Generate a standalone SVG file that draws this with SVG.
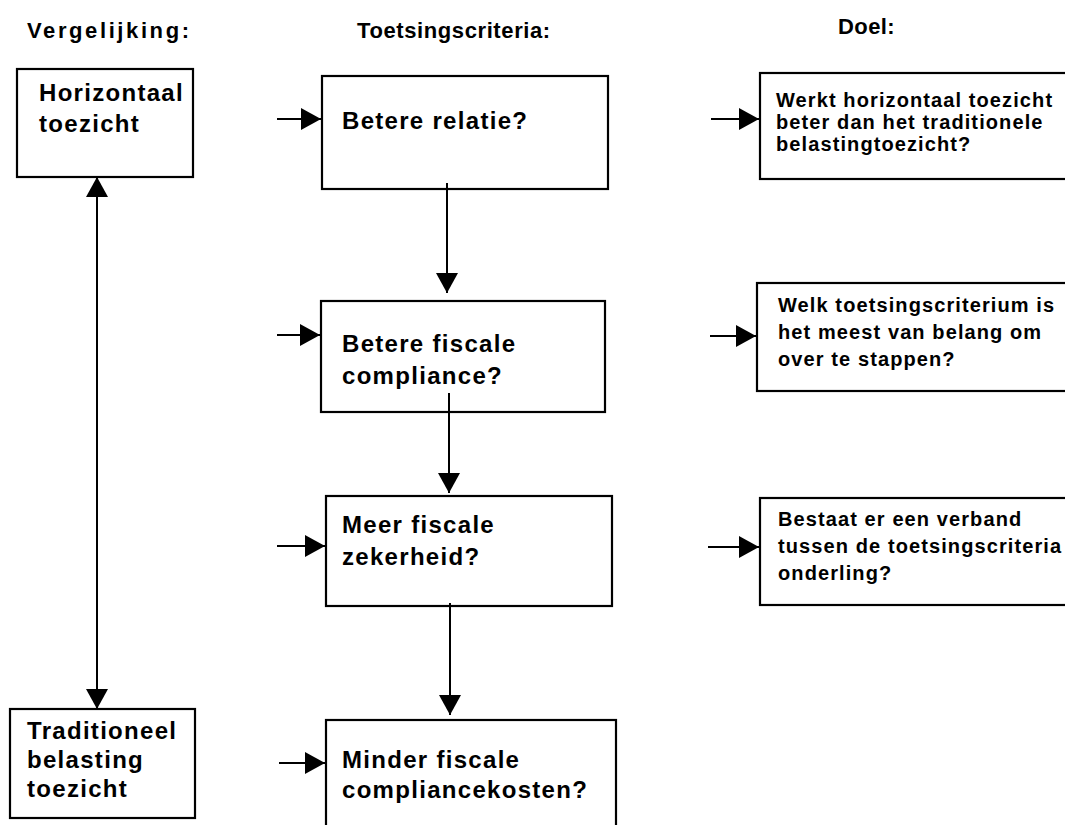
<svg xmlns="http://www.w3.org/2000/svg" width="1065" height="825" viewBox="0 0 1065 825">
<style>
text{font-family:"Liberation Sans",Arial,sans-serif;font-weight:bold;fill:#000}
.h{font-size:22px}
.t{font-size:24px;letter-spacing:1.3px}
.s{font-size:20px;letter-spacing:1.1px}
.box{fill:#fff;stroke:#000;stroke-width:2.2}
.c{stroke:#000;stroke-width:2;fill:none}
</style>
<defs>
<marker id="ah" viewBox="0 0 20 22" refX="20" refY="11" markerWidth="20" markerHeight="22" markerUnits="userSpaceOnUse" orient="auto-start-reverse">
<path d="M0,0 L20,11 L0,22 z" fill="#000"/>
</marker>
</defs>
<g id="headings">
<text class="h" x="27" y="38" letter-spacing="2.6">Vergelijking:</text>
<text class="h" x="357" y="38" letter-spacing="0.6">Toetsingscriteria:</text>
<text class="h" x="838" y="34" letter-spacing="0.4">Doel:</text>
</g>
<g id="horizontaal">
<rect class="box" x="17" y="69" width="176" height="108"/>
<text class="t" x="39" y="101">Horizontaal</text>
<text class="t" x="39" y="132">toezicht</text>
</g>
<g id="traditioneel">
<rect class="box" x="10" y="709" width="185" height="109"/>
<text class="t" x="27" y="739">Traditioneel</text>
<text class="t" x="27" y="768">belasting</text>
<text class="t" x="27" y="797">toezicht</text>
</g>
<g id="relatie">
<rect class="box" x="322" y="76" width="286" height="113"/>
<text class="t" x="342" y="129" letter-spacing="1.7">Betere relatie?</text>
</g>
<g id="compliance">
<rect class="box" x="321" y="301" width="284" height="111"/>
<text class="t" x="342" y="352">Betere fiscale</text>
<text class="t" x="342" y="384">compliance?</text>
</g>
<g id="zekerheid">
<rect class="box" x="326" y="496" width="286" height="110"/>
<text class="t" x="342" y="533">Meer fiscale</text>
<text class="t" x="342" y="565">zekerheid?</text>
</g>
<g id="kosten">
<rect class="box" x="326" y="720" width="290" height="120"/>
<text class="t" x="342" y="768">Minder fiscale</text>
<text class="t" x="342" y="798">compliancekosten?</text>
</g>
<g id="doel1">
<rect class="box" x="760" y="73" width="320" height="106"/>
<text class="s" x="776" y="107">Werkt horizontaal toezicht</text>
<text class="s" x="776" y="129">beter dan het traditionele</text>
<text class="s" x="776" y="151">belastingtoezicht?</text>
</g>
<g id="doel2">
<rect class="box" x="757" y="283" width="320" height="108"/>
<text class="s" x="778" y="312">Welk toetsingscriterium is</text>
<text class="s" x="778" y="339">het meest van belang om</text>
<text class="s" x="778" y="366">over te stappen?</text>
</g>
<g id="doel3">
<rect class="box" x="760" y="498" width="320" height="107"/>
<text class="s" x="778" y="526">Bestaat er een verband</text>
<text class="s" x="778" y="553">tussen de toetsingscriteria</text>
<text class="s" x="778" y="580">onderling?</text>
</g>
<g id="connectors">
<line class="c" x1="97" y1="177" x2="97" y2="709" marker-start="url(#ah)" marker-end="url(#ah)"/>
<line class="c" x1="447" y1="183" x2="447" y2="293" marker-end="url(#ah)"/>
<line class="c" x1="449" y1="393" x2="449" y2="493" marker-end="url(#ah)"/>
<line class="c" x1="450" y1="603" x2="450" y2="715" marker-end="url(#ah)"/>
<line class="c" x1="277" y1="119" x2="321" y2="119" marker-end="url(#ah)"/>
<line class="c" x1="277" y1="335" x2="320" y2="335" marker-end="url(#ah)"/>
<line class="c" x1="277" y1="546" x2="325" y2="546" marker-end="url(#ah)"/>
<line class="c" x1="279" y1="763" x2="325" y2="763" marker-end="url(#ah)"/>
<line class="c" x1="711" y1="119" x2="759" y2="119" marker-end="url(#ah)"/>
<line class="c" x1="710" y1="336" x2="756" y2="336" marker-end="url(#ah)"/>
<line class="c" x1="708" y1="547" x2="759" y2="547" marker-end="url(#ah)"/>
</g>
</svg>
